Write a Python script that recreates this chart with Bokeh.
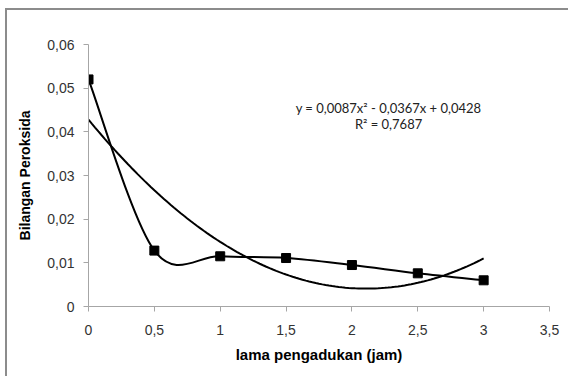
from bokeh.plotting import figure
from bokeh.models import Range1d, Label, FixedTicker, CustomJSTickFormatter, InlineStyleSheet
from bokeh.embed import file_html
from bokeh.resources import INLINE

# data
time_h = [0, 0.5, 1, 1.5, 2, 2.5, 3]
peroxide = [0.052, 0.0128, 0.0115, 0.0111, 0.0095, 0.0076, 0.0060]
# polynomial trend line coefficients shown on the chart (a x^2 + b x + c)
trend_coef = [0.0087, -0.0367, 0.0428]
x_ticks = [0, 0.5, 1, 1.5, 2, 2.5, 3, 3.5]
y_ticks = [0, 0.01, 0.02, 0.03, 0.04, 0.05, 0.06]
eq_text = ["y = 0,0087x\u00b2 - 0,0367x + 0,0428", "R\u00b2 = 0,7687"]

p = figure(width=563, height=368, output_backend="svg", toolbar_location=None,
           x_range=Range1d(0, 3.5), y_range=Range1d(0, 0.06),
           min_border_left=81, min_border_right=21, min_border_top=34, min_border_bottom=72)
# outer chart border (top and left edges visible in the reference)
p.stylesheets = [InlineStyleSheet(css=":host { margin-top: 8px; margin-left: 5px; "
                                      "border-top: 2px solid #8c8c8c; border-left: 2px solid #8c8c8c; }")]
p.outline_line_color = None
p.xgrid.visible = False
p.ygrid.visible = False

FONT = "Liberation Sans"
for ax in (p.xaxis[0], p.yaxis[0]):
    ax.axis_line_color = "#a6a6a6"
    ax.major_tick_line_color = "#a6a6a6"
    ax.minor_tick_line_color = None
    ax.major_tick_in = 0
    ax.major_tick_out = 5
    ax.major_label_text_font = FONT
    ax.major_label_text_font_size = "14px"
    ax.major_label_text_color = "#333333"
    ax.axis_label_text_font = FONT
    ax.axis_label_text_font_style = "bold"
    ax.axis_label_text_color = "#000000"
    ax.formatter = CustomJSTickFormatter(code="""
        if (tick == 0) return '0';
        return (Math.round(tick*1000)/1000).toString().replace('.', ',');
    """)

p.xaxis[0].ticker = FixedTicker(ticks=x_ticks)
p.yaxis[0].ticker = FixedTicker(ticks=y_ticks)
p.xaxis[0].axis_label = "lama pengadukan (jam)"
p.yaxis[0].axis_label = "Bilangan Peroksida"
p.xaxis[0].axis_label_text_font_size = "15px"
p.yaxis[0].axis_label_text_font_size = "14px"
p.xaxis[0].major_label_standoff = 13
p.yaxis[0].major_label_standoff = 9
p.xaxis[0].axis_label_standoff = 8
p.yaxis[0].axis_label_standoff = 11

# trend line from the chart's equation
n = 121
tx = [3.0 * i / (n - 1) for i in range(n)]
ty = [trend_coef[0] * x * x + trend_coef[1] * x + trend_coef[2] for x in tx]
p.line(tx, ty, line_color="black", line_width=2)

# smoothed data line (Bezier segments, Excel-style smoothing)
x0s, y0s, x1s, y1s, cx0, cy0, cx1, cy1 = [], [], [], [], [], [], [], []
m = len(time_h)
for i in range(m - 1):
    pa = (time_h[max(i - 1, 0)], peroxide[max(i - 1, 0)])
    p1 = (time_h[i], peroxide[i])
    p2 = (time_h[i + 1], peroxide[i + 1])
    pb = (time_h[min(i + 2, m - 1)], peroxide[min(i + 2, m - 1)])
    x0s.append(p1[0]); y0s.append(p1[1])
    x1s.append(p2[0]); y1s.append(p2[1])
    cx0.append(p1[0] + (p2[0] - pa[0]) / 6); cy0.append(p1[1] + (p2[1] - pa[1]) / 6)
    cx1.append(p2[0] - (pb[0] - p1[0]) / 6); cy1.append(p2[1] - (pb[1] - p1[1]) / 6)
p.bezier(x0=x0s, y0=y0s, x1=x1s, y1=y1s, cx0=cx0, cy0=cy0, cx1=cx1, cy1=cy1,
         line_color="black", line_width=2)
p.scatter(time_h, peroxide, marker="square", size=9, fill_color="black", line_color="black")

p.add_layout(Label(x=2.278, y=0.0455, text=eq_text[0], text_align="center", text_baseline="middle",
                   text_font="Lato", text_font_size="13px", text_color="#222222"))
p.add_layout(Label(x=2.278, y=0.0419, text=eq_text[1], text_align="center", text_baseline="middle",
                   text_font="Lato", text_font_size="13px", text_color="#222222"))

open("out.html", "w").write(file_html(p, INLINE))
